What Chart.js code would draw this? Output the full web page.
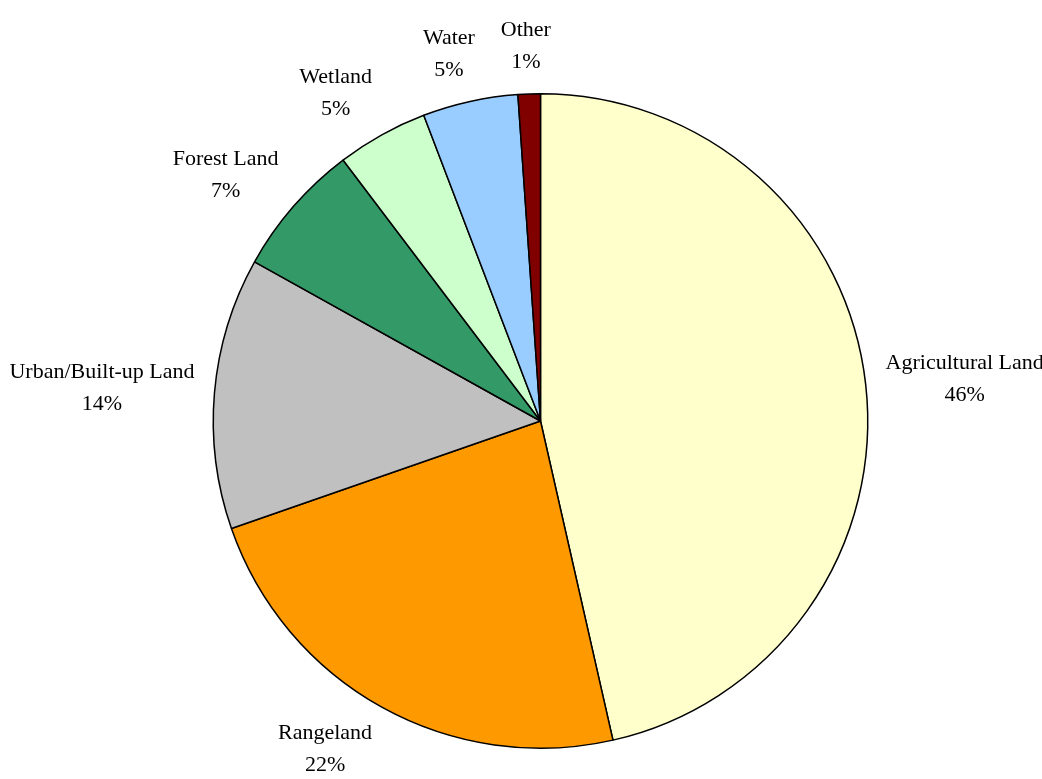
<!DOCTYPE html>
<html>
<head>
<meta charset="utf-8">
<script src="https://cdn.jsdelivr.net/npm/chart.js@4/dist/chart.umd.min.js"></script>
<style>
  html, body { margin: 0; padding: 0; background: #fff; }
  #wrap { width: 1042px; height: 779px; }
</style>
</head>
<body>
<div id="wrap"><canvas id="pie" width="1042" height="779"></canvas></div>
<script>
// land use shares
const categories = ["Agricultural Land", "Rangeland", "Urban/Built-up Land", "Forest Land", "Wetland", "Water", "Other"];
const shares = [46.4, 23.2, 13.4, 6.6, 4.5, 4.7, 1.1];
const pctLabels = ["46%", "22%", "14%", "7%", "5%", "5%", "1%"];
const colors = ["#FFFFCC", "#FF9900", "#C0C0C0", "#339966", "#CCFFCC", "#99CCFF", "#800000"];

// labels outside the pie, two lines each
const outsideLabels = {
  id: "outsideLabels",
  afterDraw(chart) {
    const ctx = chart.ctx;
    const arcs = chart.getDatasetMeta(0).data;
    ctx.save();
    ctx.font = "22px 'Liberation Serif', 'Times New Roman', serif";
    ctx.fillStyle = "#000";
    ctx.textAlign = "center";
    ctx.textBaseline = "middle";
    const lineH = 32;
    arcs.forEach((arc, i) => {
      const mid = (arc.startAngle + arc.endAngle) / 2;
      const dx = Math.cos(mid), dy = Math.sin(mid);
      const r = arc.outerRadius + 20;
      const ax = arc.x + r * dx, ay = arc.y + r * dy;
      const w = Math.max(ctx.measureText(categories[i]).width, ctx.measureText(pctLabels[i]).width);
      // push the box sideways, saturating once the slice points off to a side
      const f = Math.max(-1, Math.min(1, dx * 3));
      const cx = ax + f * w / 2;
      const cy = ay + dy * 28;
      ctx.fillText(categories[i], cx, cy - lineH / 2);
      ctx.fillText(pctLabels[i], cx, cy + lineH / 2);
    });
    ctx.restore();
  }
};

new Chart(document.getElementById("pie"), {
  type: "pie",
  data: {
    labels: categories,
    datasets: [{
      data: shares,
      backgroundColor: colors,
      borderColor: "#000",
      borderWidth: 1.5
    }]
  },
  options: {
    responsive: false,
    animation: false,
    layout: { padding: { top: 93, bottom: 30, left: 211, right: 172 } },
    plugins: {
      legend: { display: false },
      tooltip: { enabled: false }
    }
  },
  plugins: [outsideLabels]
});
</script>
</body>
</html>
